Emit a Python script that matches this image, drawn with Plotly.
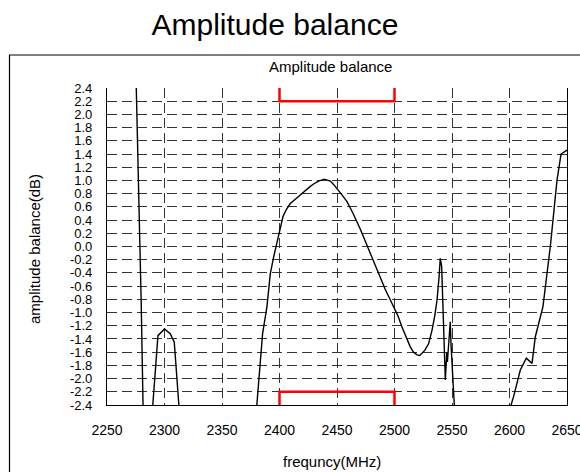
import plotly.graph_objects as go

# ---- data ----
freq_mhz = [2274.0, 2279.7, 2283.0, 2287.5, 2294.3, 2300.0, 2305.0, 2308.5, 2315.0,
            2377.5, 2385.3, 2389.1, 2392.0, 2394.9, 2397.8, 2400.7, 2403.0, 2405.9,
            2409.4, 2414.0, 2418.0, 2422.0, 2426.8, 2430.0, 2434.0, 2439.0, 2444.2,
            2447.0, 2450.0, 2454.0, 2458.7, 2464.0, 2470.3, 2475.0, 2479.0, 2483.0,
            2487.7, 2492.0, 2496.4, 2499.2, 2503.0, 2506.5, 2510.0, 2513.7, 2516.5,
            2519.6, 2522.0, 2523.9, 2526.5, 2529.7, 2532.6, 2535.0, 2537.0, 2538.8,
            2539.8, 2541.0, 2543.0, 2544.2, 2545.5, 2546.0, 2548.5, 2549.2, 2554.5,
            2601.0, 2603.6, 2609.4, 2614.6, 2619.6, 2622.4, 2629.1, 2635.5, 2641.3,
            2644.8, 2650.0]
balance_db = [3.5, -0.81, -4.0, -3.0, -1.35, -1.25, -1.32, -1.45, -3.0,
              -3.0, -1.32, -0.91, -0.41, -0.16, 0.05, 0.30, 0.45, 0.56,
              0.65, 0.72, 0.78, 0.85, 0.91, 0.95, 0.99, 1.02, 0.99,
              0.94, 0.88, 0.79, 0.68, 0.50, 0.26, 0.06, -0.10, -0.28,
              -0.46, -0.65, -0.81, -0.91, -1.05, -1.22, -1.38, -1.52, -1.60,
              -1.64, -1.65, -1.62, -1.57, -1.47, -1.27, -1.05, -0.81, -0.45,
              -0.18, -0.30, -1.20, -2.02, -1.60, -1.75, -1.14, -1.50, -3.2,
              -2.42, -2.27, -1.87, -1.69, -1.77, -1.37, -0.91, 0.0, 1.0,
              1.40, 1.46]

mask_freq = [2400, 2400, 2500, 2500]
mask_upper = [2.4, 2.2, 2.2, 2.4]
mask_lower = [-2.4, -2.2, -2.2, -2.4]

x_ticks = [2250, 2300, 2350, 2400, 2450, 2500, 2550, 2600, 2650]
x_tick_labels = ["2250", "2300", "2350", "2400", "2450", "2500", "2550", "2600", "2650"]
y_ticks = [round(-2.4 + 0.2 * i, 1) for i in range(25)]
y_tick_labels = ["%.1f" % v for v in y_ticks]

FONT = "Liberation Sans, Arial, sans-serif"

fig = go.Figure()
fig.add_trace(go.Scatter(x=freq_mhz, y=balance_db, mode="lines",
                         line=dict(color="black", width=1.4), showlegend=False,
                         hoverinfo="skip"))
fig.add_trace(go.Scatter(x=mask_freq, y=mask_upper, mode="lines",
                         line=dict(color="#ff0000", width=2.5), showlegend=False))
fig.add_trace(go.Scatter(x=mask_freq, y=mask_lower, mode="lines",
                         line=dict(color="#ff0000", width=2.5), showlegend=False))

fig.update_layout(
    width=580, height=472,
    margin=dict(l=107, r=13, t=88, b=67, pad=0, autoexpand=False),
    paper_bgcolor="white", plot_bgcolor="white",
    font=dict(family=FONT, color="black", size=14),
    title=dict(text="Amplitude balance", x=0.474, xanchor="center",
               y=1 - 24 / 472, yref="container", yanchor="middle",
               font=dict(size=30, family=FONT, color="black")),
    xaxis=dict(range=[2250, 2650], tickmode="array", tickvals=x_ticks,
               ticktext=x_tick_labels, showgrid=True, gridcolor="#333333",
               griddash="10px,5px", gridwidth=1, showline=True,
               linecolor="black", linewidth=1.2, mirror=False, ticks="",
               zeroline=False, ticklabelstandoff=12, ticklabeloverflow="allow",
               automargin=False, tickfont=dict(size=14, family=FONT)),
    yaxis=dict(range=[-2.4, 2.4], tickmode="array", tickvals=y_ticks,
               ticktext=y_tick_labels, showgrid=True, gridcolor="#333333",
               griddash="10px,5px", gridwidth=1, showline=True,
               linecolor="black", linewidth=1.2, mirror=True, ticks="",
               zeroline=False, ticklabelstandoff=11, automargin=False,
               tickfont=dict(size=13, family=FONT)),
)

# outer frame
fig.add_shape(type="rect", xref="paper", yref="paper",
              x0=(9.5 - 107) / 460, x1=1.1, y0=-0.3, y1=(405 - 55) / 317,
              line=dict(color="black", width=1.2), fillcolor="rgba(0,0,0,0)",
              layer="below")

fig.add_annotation(text="Amplitude balance", xref="paper", yref="paper",
                   x=(330 - 107) / 460, y=(405 - 67) / 317, showarrow=False,
                   xanchor="center", yanchor="middle",
                   font=dict(size=15, family=FONT, color="black"))
fig.add_annotation(text="amplitude balance(dB)", xref="paper", yref="paper",
                   x=(35 - 107) / 460, y=(405 - 249) / 317, showarrow=False,
                   textangle=-90, xanchor="center", yanchor="middle",
                   font=dict(size=15, family=FONT, color="black"))
fig.add_annotation(text="frequncy(MHz)", xref="paper", yref="paper",
                   x=(332 - 107) / 460, y=(405 - 461) / 317, showarrow=False,
                   xanchor="center", yanchor="middle",
                   font=dict(size=15, family=FONT, color="black"))

fig.write_html("out.html", config={"displayModeBar": False},
               post_script="document.body.style.margin='0';document.body.style.padding='0';")
